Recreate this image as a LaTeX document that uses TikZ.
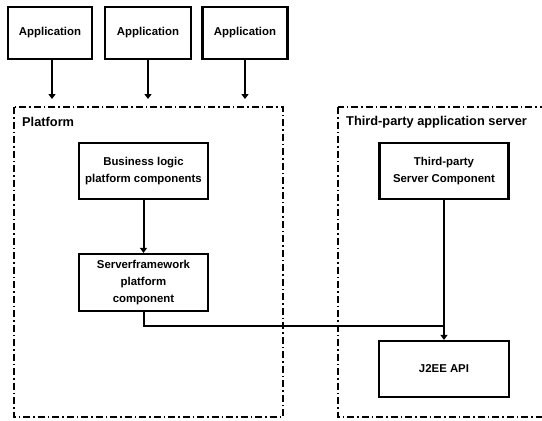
\documentclass[tikz,border=0pt]{standalone}
\usepackage{fontspec}
\setmainfont{Liberation Sans}
\usetikzlibrary{arrows.meta}
\begin{document}
\begin{tikzpicture}[x=1pt,y=-1pt,
  box/.style={draw,line width=2.2pt,inner sep=0pt,align=center,font=\fontsize{11.4}{17}\selectfont\bfseries},
  frame/.style={line width=1.5pt,dash pattern=on 7pt off 3pt on 1.5pt off 3pt},
  lbl/.style={anchor=west,inner sep=0pt,font=\fontsize{12.8}{15}\selectfont\bfseries},
  conn/.style={line width=2pt,-{Triangle[width=7pt,length=5pt]}},
  line/.style={line width=2pt}]
\useasboundingbox (0,0) rectangle (542,421);
\clip (0,0) rectangle (542,421);
% frames
\draw[frame] (14,107) rectangle (283,417);
\draw[frame] (338,107) rectangle (560,417);
\node[lbl] (plat) at (22,122) {Platform};
\node[lbl] (tpas) at (346,122) {Third-party application server};
% application boxes
\node[box,minimum width=84pt,minimum height=52pt] (app1) at (50,33) {Application};
\node[box,minimum width=86pt,minimum height=52pt] (app2) at (148,33) {Application};
\node[box,minimum width=85pt,minimum height=52pt] (app3) at (245,33) {Application};
\coordinate (t1) at (52,99);
\coordinate (t2) at (148,99);
\coordinate (t3) at (245,99);
\draw[conn] (app1.south -| t1) -- (t1);
\draw[conn] (app2.south) -- (t2);
\draw[conn] (app3.south -| t3) -- (t3);
% platform components
\node[box,minimum width=129pt,minimum height=56pt] (biz) at (143.5,171) {Business logic\\platform components};
\node[box,minimum width=129pt,minimum height=57pt] (srv) at (143.5,282.5) {Serverframework\\platform\\component};
\draw[conn] (biz.south) -- (srv.north);
% third party
\node[box,minimum width=129pt,minimum height=56pt] (tps) at (444,171) {Third-party\\Server Component};
\node[box,minimum width=130pt,minimum height=56pt] (j2ee) at (444,369) {J2EE API};
\draw[conn] (tps.south) -- (j2ee.north);
\coordinate (jn) at (444,326);
\draw[line] (srv.south) |- (jn);
\end{tikzpicture}
\end{document}
